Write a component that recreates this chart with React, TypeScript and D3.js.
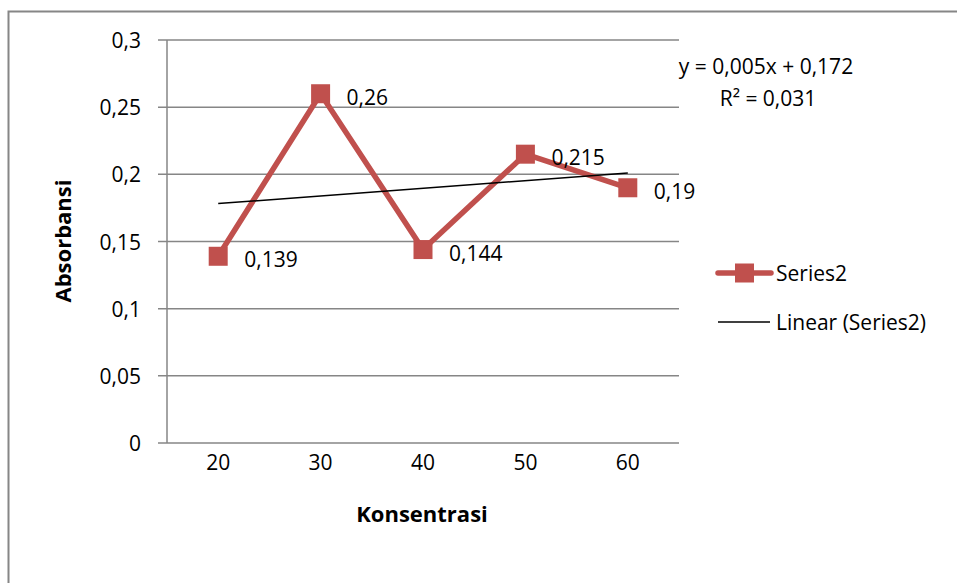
import React from 'react';
import * as d3 from 'd3';

const categories: string[] = ['20', '30', '40', '50', '60'];
const series2: number[] = [0.139, 0.26, 0.144, 0.215, 0.19];
const labels: string[] = ['0,139', '0,26', '0,144', '0,215', '0,19'];
const yTicks: number[] = [0, 0.05, 0.1, 0.15, 0.2, 0.25, 0.3];
const yTickLabels: string[] = ['0', '0,05', '0,1', '0,15', '0,2', '0,25', '0,3'];
const equation: string[] = ['y = 0,005x + 0,172', 'R² = 0,031'];

const FONT = '"Open Sans", sans-serif';
const RED = '#C0504D';
const GRID = '#868686';
const FS = 21;

/* least squares fit on x = 1..n, as Excel does for a line chart */
const linearFit = (ys: number[]): [number, number] => {
  const xs = ys.map((_, i) => i + 1);
  const mx = d3.mean(xs) as number;
  const my = d3.mean(ys) as number;
  let num = 0;
  let den = 0;
  xs.forEach((x, i) => {
    num += (x - mx) * (ys[i] - my);
    den += (x - mx) * (x - mx);
  });
  const slope = num / den;
  return [slope, my - slope * mx];
};

const App = () => {
  const width = 957;
  const height = 583;
  const plot = { left: 167, right: 679, top: 40, bottom: 443 };

  const x = d3.scaleBand().domain(categories).range([plot.left, plot.right]);
  const cx = (c: string): number => (x(c) as number) + x.bandwidth() / 2;
  const y = d3.scaleLinear().domain([0, 0.3]).range([plot.bottom, plot.top]);

  const line = d3
    .line<number>()
    .x((_, i) => cx(categories[i]))
    .y((d) => y(d));

  const [slope, intercept] = linearFit(series2);
  const first = categories[0];
  const last = categories[categories.length - 1];
  const trend = [
    { x: cx(first), y: y(slope * 1 + intercept) },
    { x: cx(last), y: y(slope * categories.length + intercept) },
  ];

  const msize = 19;

  return (
    <svg
      width={width}
      height={height}
      style={{ position: 'absolute', left: 0, top: 0, background: '#fff' }}
      fontFamily={FONT}
    >
      <rect x={8.5} y={11.5} width={960} height={600} fill="#fff" stroke={GRID} strokeWidth={2} />

      <g id="grid">
        {yTicks.map((t, i) => (
          <line
            key={i}
            x1={plot.left - 9}
            x2={plot.right}
            y1={y(t)}
            y2={y(t)}
            stroke={GRID}
            strokeWidth={1.5}
          />
        ))}
        <line x1={plot.left} x2={plot.left} y1={plot.top} y2={plot.bottom} stroke={GRID} strokeWidth={1.5} />
      </g>

      <g id="y-labels" fontSize={FS} fill="#000">
        {yTicks.map((t, i) => (
          <text key={i} x={141} y={y(t)} textAnchor="end" dominantBaseline="central">
            {yTickLabels[i]}
          </text>
        ))}
      </g>

      <g id="x-labels" fontSize={FS} fill="#000">
        {categories.map((c) => (
          <text key={c} x={cx(c)} y={462} textAnchor="middle" dominantBaseline="central">
            {c}
          </text>
        ))}
      </g>

      <text x={422} y={513} textAnchor="middle" dominantBaseline="central" fontSize={22} fontWeight="bold">
        Konsentrasi
      </text>
      <text
        transform="translate(62, 241) rotate(-90)"
        textAnchor="middle"
        dominantBaseline="central"
        fontSize={22}
        fontWeight="bold"
      >
        Absorbansi
      </text>

      <path d={line(series2) as string} fill="none" stroke={RED} strokeWidth={5.5} strokeLinejoin="round" />
      {series2.map((v, i) => (
        <rect
          key={i}
          x={cx(categories[i]) - msize / 2}
          y={y(v) - msize / 2}
          width={msize}
          height={msize}
          fill={RED}
        />
      ))}

      <line x1={trend[0].x} y1={trend[0].y} x2={trend[1].x} y2={trend[1].y} stroke="#000" strokeWidth={1.5} />

      <g id="data-labels" fontSize={FS}>
        {series2.map((v, i) => (
          <text key={i} x={cx(categories[i]) + 26} y={y(v) + 3} dominantBaseline="central">
            {labels[i]}
          </text>
        ))}
      </g>

      <g id="equation" fontSize={FS} textAnchor="middle">
        <text x={766} y={66} dominantBaseline="central">{equation[0]}</text>
        <text x={768} y={98} dominantBaseline="central">{equation[1]}</text>
      </g>

      <g id="legend" fontSize={FS}>
        <line x1={718} x2={771} y1={273} y2={273} stroke={RED} strokeWidth={5.5} strokeLinecap="round" />
        <rect x={744.5 - msize / 2} y={273 - msize / 2} width={msize} height={msize} fill={RED} />
        <text x={776} y={273} dominantBaseline="central">Series2</text>
        <line x1={718} x2={770} y1={322} y2={322} stroke="#000" strokeWidth={1.5} />
        <text x={776} y={322} dominantBaseline="central">Linear (Series2)</text>
      </g>
    </svg>
  );
};

export default App;
